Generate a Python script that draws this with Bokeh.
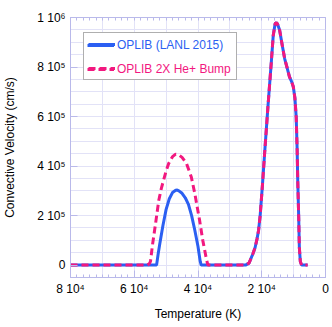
from bokeh.plotting import figure
from bokeh.models import Range1d, FixedTicker, Legend, LegendItem, LinearAxis
from bokeh.embed import file_html
from bokeh.resources import INLINE

# OPLIB (LANL 2015)
temp_oplib = [80000, 53000, 52500, 52000, 51000, 50000, 49000, 48000, 47000, 46500, 46000,
              45000, 44000, 43000, 42000, 41000, 40000, 39300, 39000,
              25100, 24000, 23600, 22800, 22100, 21500, 21000, 20500, 19800, 19000, 18000,
              17000, 16400, 15800, 15400, 15000, 14400, 13600, 12800, 12000, 11300, 10600,
              10100, 9600, 9200, 8900, 8700, 8400, 8200, 7900, 7500, 5600]
vel_oplib = [0, 0, 45000, 85000, 160000, 225000, 268000, 293000, 302000, 303000, 300000,
             290000, 272000, 245000, 200000, 141000, 75000, 15000, 0,
             0, 8000, 20000, 45000, 70000, 105000, 140000, 200000, 320000, 470000, 650000,
             820000, 927000, 975000, 980000, 972000, 950000, 890000, 833000, 795000, 760000, 740000,
             720000, 675000, 600000, 470000, 340000, 190000, 70000, 15000, 0, 0]

# OPLIB 2X He+ Bump
temp_bump = [80000, 56000, 55300, 54900, 54300, 53300, 52300, 51500, 50800, 50000, 49200,
             48000, 47000, 46200, 45000, 43600, 42100, 41000, 39500, 38500, 37400, 36900,
             25100, 24000, 23600, 22800, 22100, 21500, 21000, 20500, 19800, 19000, 18000,
             17000, 16400, 15800, 15400, 15000, 14400, 13600, 12800, 12000, 11300, 10600,
             10100, 9600, 9200, 8900, 8700, 8400, 8200, 7900, 7500, 5600]
vel_bump = [0, 0, 5000, 15000, 80000, 169000, 262000, 310000, 343000, 380000, 410000,
            438000, 448000, 447000, 435000, 410000, 356000, 289000, 181000, 100000, 27000, 0,
            0, 8000, 20000, 45000, 70000, 105000, 140000, 200000, 320000, 470000, 650000,
            820000, 927000, 975000, 980000, 972000, 950000, 890000, 833000, 795000, 760000, 740000,
            720000, 675000, 600000, 470000, 340000, 190000, 70000, 15000, 0, 0]

x_tick_values = [0, 20000, 40000, 60000, 80000]
x_tick_labels = ["0", "2 10\u2074", "4 10\u2074", "6 10\u2074", "8 10\u2074"]
y_tick_values = [0, 200000, 400000, 600000, 800000, 1000000]
y_tick_labels = ["0", "2 10\u2075", "4 10\u2075", "6 10\u2075", "8 10\u2075", "1 10\u2076"]

label_oplib = "OPLIB (LANL 2015)"
label_bump = "OPLIB 2X He+ Bump"

BLUE = "#2b5ff2"
PINK = "#f2187f"
FRAME = "#b9b9ea"
GRID = "#e2e2f7"
FONT = "Liberation Sans"

p = figure(width=330, height=325, x_range=Range1d(80000, 0), y_range=Range1d(-50000, 1000000),
           output_backend="svg", toolbar_location=None,
           min_border_left=65, min_border_right=5, min_border_top=17, min_border_bottom=48)
p.background_fill_color = "white"
p.border_fill_color = "white"
p.outline_line_color = FRAME
p.outline_line_width = 1

x_minor = [v for v in range(0, 80001, 2000)]
y_minor = [v for v in range(-50000, 1000001, 50000)]
x_grid = [v for v in range(0, 80001, 10000)]

r1 = p.line(temp_oplib, vel_oplib, line_color=BLUE, line_width=3)
r2 = p.line(temp_bump, vel_bump, line_color=PINK, line_width=3, line_dash="7 4")

def style_axis(ax, ticks, minor, labels):
    ax.ticker = FixedTicker(ticks=ticks, minor_ticks=minor)
    ax.axis_line_color = FRAME
    ax.major_tick_line_color = FRAME
    ax.minor_tick_line_color = FRAME
    ax.major_tick_in = 7
    ax.major_tick_out = 0
    ax.minor_tick_in = 3
    ax.minor_tick_out = 0
    ax.major_label_text_font = FONT
    ax.major_label_text_font_size = "12px"
    ax.major_label_text_color = "black"
    ax.axis_label_text_font = FONT
    ax.axis_label_text_font_size = "12px"
    ax.axis_label_text_font_style = "normal"
    ax.axis_label_text_color = "black"
    if labels is not None:
        ax.major_label_overrides = {v: l for v, l in zip(ticks, labels)}

xa = p.xaxis[0]
style_axis(xa, x_tick_values, x_minor, x_tick_labels)
xa.axis_label = "Temperature (K)"
xa.major_label_standoff = 4
xa.axis_label_standoff = 8

ya = p.yaxis[0]
style_axis(ya, y_tick_values, [], y_tick_labels)
ya.axis_label = "Convective Velocity (cm/s)"
ya.major_label_standoff = 5
ya.axis_label_standoff = 17

top = LinearAxis()
style_axis(top, [], x_minor, None)
top.major_label_standoff = 0
p.add_layout(top, "above")

p.xgrid.ticker = FixedTicker(ticks=x_grid)
p.ygrid.ticker = FixedTicker(ticks=y_minor)
p.xgrid.grid_line_color = GRID
p.ygrid.grid_line_color = GRID

def make_legend(items, loc, color, alpha, boxed):
    lg = Legend(items=items, location=loc, orientation="vertical",
                padding=4, spacing=10, margin=0, glyph_width=27, glyph_height=14,
                label_height=14, label_standoff=3,
                label_text_font=FONT, label_text_font_size="12px",
                label_text_color=color, label_text_alpha=alpha,
                label_text_baseline="middle")
    if boxed:
        lg.border_line_color = "#606060"
        lg.border_line_width = 1
        lg.background_fill_color = "white"
        lg.background_fill_alpha = 1
    else:
        lg.border_line_alpha = 0
        lg.background_fill_alpha = 0
    return lg

p.add_layout(make_legend([LegendItem(label=label_oplib, renderers=[r1]),
                          LegendItem(label=label_bump, renderers=[r2])],
                         (13, 197), "black", 0, True))
p.add_layout(make_legend([LegendItem(label=label_oplib, renderers=[r1])],
                         (13, 221), BLUE, 1, False))
p.add_layout(make_legend([LegendItem(label=label_bump, renderers=[r2])],
                         (13, 197), PINK, 1, False))

open("out.html", "w").write(file_html(p, INLINE))
